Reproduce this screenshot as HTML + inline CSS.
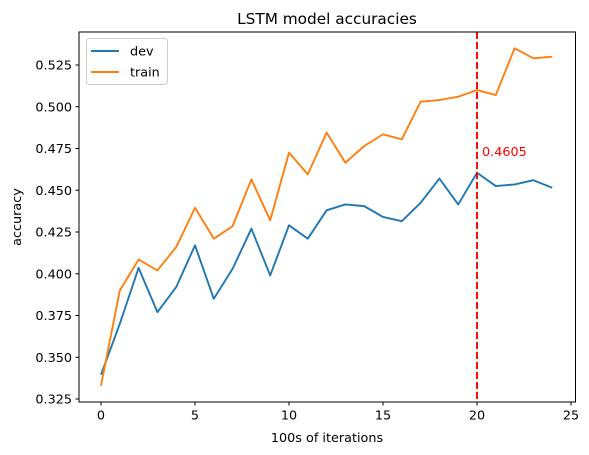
<!DOCTYPE html>
<html><head><meta charset="utf-8"><style>
body{margin:0;background:#fff;}
svg{display:block;font-family:"DejaVu Sans","Liberation Sans",sans-serif;}
</style></head><body>
<svg id="chart" width="589" height="455" viewBox="0 0 589 455">
<rect width="589" height="455" fill="#fff"/>
<text x="327" y="24" text-anchor="middle" font-size="15.3" fill="#000">LSTM model accuracies</text>
<g id="grid"></g>
<g id="series"></g>
<rect x="79" y="32" width="496.5" height="370" fill="none" stroke="#000" stroke-width="1"/>
<g id="ticks"></g>
<text x="327" y="442" text-anchor="middle" font-size="12.8">100s of iterations</text>
<text x="21" y="217" text-anchor="middle" font-size="12.8" transform="rotate(-90 21 217)">accuracy</text>
<g>
<rect x="86.5" y="38.5" width="81" height="46" rx="3" fill="#fff" fill-opacity="0.8" stroke="#ccc"/>
<line x1="91" y1="51" x2="119" y2="51" stroke="#1f77b4" stroke-width="1.9"/>
<text x="130" y="55.5" font-size="12.8">dev</text>
<line x1="91" y1="72" x2="119" y2="72" stroke="#ff7f0e" stroke-width="1.9"/>
<text x="130" y="76.5" font-size="12.8">train</text>
</g>
</svg>
<script>
const iterations = [0,1,2,3,4,5,6,7,8,9,10,11,12,13,14,15,16,17,18,19,20,21,22,23,24];
const devAcc = [0.3395,0.370,0.4035,0.377,0.392,0.417,0.385,0.403,0.427,0.399,0.429,0.421,0.438,0.4415,0.4405,0.434,0.4315,0.4425,0.457,0.4415,0.4605,0.4525,0.4535,0.456,0.4515];
const trainAcc = [0.333,0.390,0.4085,0.402,0.416,0.4395,0.421,0.4285,0.4565,0.432,0.4725,0.4595,0.4845,0.4665,0.4765,0.4835,0.4805,0.503,0.504,0.506,0.510,0.507,0.535,0.529,0.530];
const xTicks = [0,5,10,15,20,25];
const yTicks = [0.325,0.350,0.375,0.400,0.425,0.450,0.475,0.500,0.525];
const bestIter = 20;
const bestLabel = "0.4605";

const NS = "http://www.w3.org/2000/svg";
function xs(v){ return 101 + v * 18.8; }
function ys(v){ return 399 - (v - 0.325) / 0.025 * 41.75; }
function mk(tag, attrs, parent){
  const e = document.createElementNS(NS, tag);
  for (const k in attrs) e.setAttribute(k, attrs[k]);
  parent.appendChild(e); return e;
}
const ticks = document.getElementById('ticks');
const series = document.getElementById('series');
xTicks.forEach(t => {
  const l = mk('line', {x1: xs(t), x2: xs(t), y1: 402, y2: 405.5, stroke: '#000'}, ticks);
  
  
  const tx = mk('text', {x: xs(t), y: 419.5, 'text-anchor': 'middle', 'font-size': 12.8}, ticks);
  tx.textContent = String(t);
  
  
});
yTicks.forEach(t => {
  const l = mk('line', {x1: 75.5, x2: 79, y1: ys(t), y2: ys(t), stroke: '#000'}, ticks);
  
  
  const tx = mk('text', {x: 72, y: ys(t) + 4.6, 'text-anchor': 'end', 'font-size': 12.8}, ticks);
  tx.textContent = t.toFixed(3);
  
  
});
function line(vals, color, name){
  const d = vals.map((v,i) => (i ? 'L' : 'M') + xs(iterations[i]).toFixed(2) + ' ' + ys(v).toFixed(2)).join(' ');
  const p = mk('path', {d: d, fill: 'none', stroke: color, 'stroke-width': 1.9, 'stroke-linejoin': 'round'}, series);
  
  
}
line(devAcc, '#1f77b4', 'dev-line');
line(trainAcc, '#ff7f0e', 'train-line');
const vl = mk('line', {x1: xs(bestIter), x2: xs(bestIter), y1: 32, y2: 402, stroke: 'red', 'stroke-width': 1.9, 'stroke-dasharray': '7,3'}, series);


const bl = mk('text', {x: xs(bestIter) + 5, y: 156, 'font-size': 12.8, fill: 'red'}, series);
bl.textContent = bestLabel;


</script>
</body></html>
